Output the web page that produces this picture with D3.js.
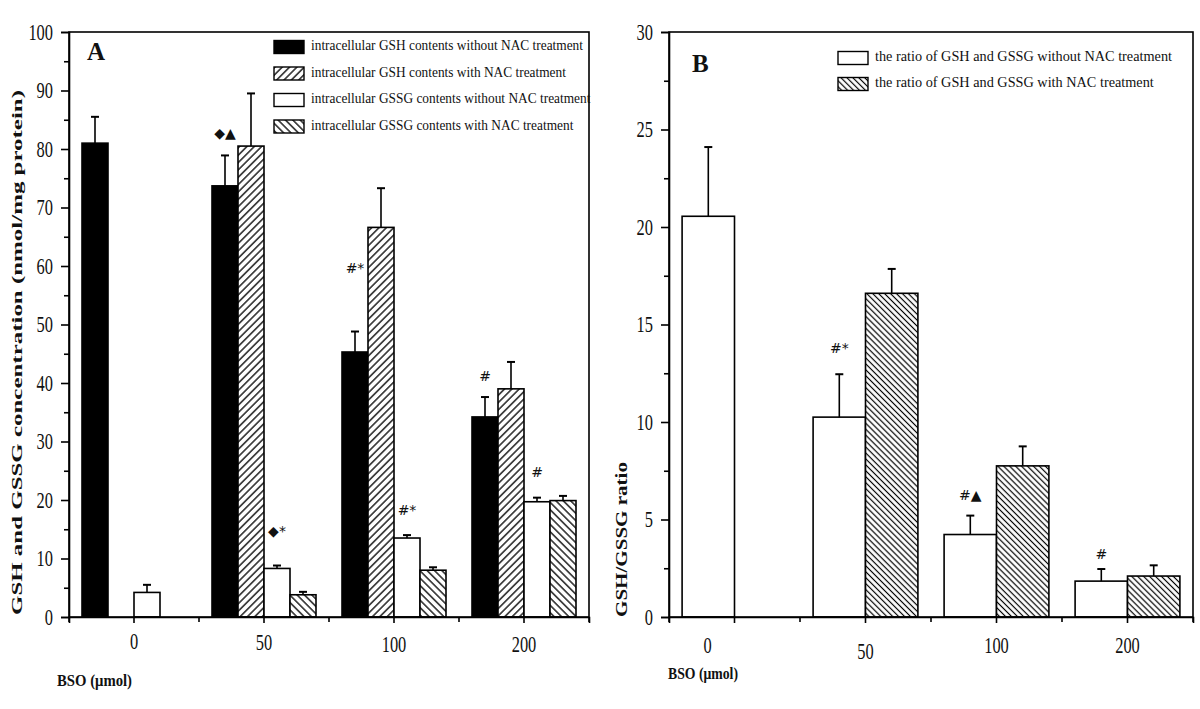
<!DOCTYPE html>
<html><head><meta charset="utf-8">
<script src="https://cdn.jsdelivr.net/npm/d3@7/dist/d3.min.js"></script>
<style>
body{margin:0;background:#fff;}
svg text{font-family:"Liberation Serif","Times New Roman",serif;fill:#111;}
</style></head>
<body><svg id="c" width="1200" height="709"></svg>
<script>
// ---------- data ----------
const categories = ["0","50","100","200"];
const seriesA = ["intracellular GSH contents without NAC treatment",
                 "intracellular GSH contents with NAC treatment",
                 "intracellular GSSG contents without NAC treatment",
                 "intracellular GSSG contents with NAC treatment"];
const gshWithout   = [81.0, 73.7, 45.3, 34.2];
const gshWithoutSD = [4.5, 5.2, 3.5, 3.4];
const gshWith      = [null, 80.5, 66.6, 39.0];
const gshWithSD    = [null, 9.0, 6.7, 4.6];
const gssgWithout  = [4.2, 8.3, 13.5, 19.7];
const gssgWithoutSD= [1.3, 0.5, 0.5, 0.7];
const gssgWith     = [null, 3.8, 8.0, 19.9];
const gssgWithSD   = [null, 0.5, 0.5, 0.8];
const ticksA = [0,10,20,30,40,50,60,70,80,90,100];

const seriesB = ["the ratio of GSH and GSSG without NAC treatment",
                 "the ratio of GSH and GSSG with NAC treatment"];
const ratioWithout   = [20.55, 10.25, 4.23, 1.84];
const ratioWithoutSD = [3.55, 2.2, 0.97, 0.62];
const ratioWith      = [null, 16.6, 7.75, 2.1];
const ratioWithSD    = [null, 1.25, 1.0, 0.55];
const ticksB = [0,5,10,15,20,25,30];

const notesA = [
  {s:0, c:"50",  t:"\u25C6\u25B2", v:82.6},
  {s:0, c:"100", t:"#*", v:59.5},
  {s:0, c:"200", t:"#",  v:41.0},
  {s:2, c:"50",  t:"\u25C6*", v:14.5},
  {s:2, c:"100", t:"#*", v:18.1},
  {s:2, c:"200", t:"#",  v:24.6}];
const notesB = [
  {s:0, c:"50",  t:"#*", v:13.75},
  {s:0, c:"100", t:"#\u25B2", v:6.2},
  {s:0, c:"200", t:"#",  v:3.2}];

const xTitle = "BSO (\u03BCmol)";
const yTitleA = "GSH and GSSG concentration (nmol/mg protein)";
const yTitleB = "GSH/GSSG ratio";

// ---------- drawing ----------
const svg = d3.select("#c");
const defs = svg.append("defs");
function hatch(id, angle, gap, w){
  const p = defs.append("pattern").attr("id",id).attr("patternUnits","userSpaceOnUse")
    .attr("width",gap).attr("height",gap).attr("patternTransform",`rotate(${angle})`);
  p.append("rect").attr("width",gap).attr("height",gap).attr("fill","#fff");
  p.append("line").attr("x1",gap/2).attr("x2",gap/2).attr("y1",0).attr("y2",gap)
    .attr("stroke","#000").attr("stroke-width",w);
}
hatch("fwd", 45, 5.2, 1.3);
hatch("back", -45, 5.2, 1.3);
hatch("backB", -45, 4.2, 1.2);

const fillsA = ["#000","url(#fwd)","#fff","url(#back)"];
const fillsB = ["#fff","url(#backB)"];

function panel(o){
  const g = svg.append("g");
  const x = d3.scaleBand().domain(categories).range([o.left,o.right]);
  const y = d3.scaleLinear().domain(o.domain).range([o.bottom,o.top]);
  const bw = x.bandwidth();
  const xs = d3.scaleBand().domain(d3.range(o.series.length)).range([bw*0.1, bw*0.9]);

  o.series.forEach((vals,si)=>{
    const sd = o.sds[si];
    categories.forEach((c,ci)=>{
      const v = vals[ci]; if(v==null) return;
      const x0 = x(c)+xs(si);
      g.append("rect").attr("x",x0).attr("y",y(v)).attr("width",xs.bandwidth())
        .attr("height",y(0)-y(v)).attr("fill",o.fills[si]).attr("stroke","#000").attr("stroke-width",1.6);
      const cx = x0+xs.bandwidth()/2;
      const top = y(v+sd[ci]);
      g.append("line").attr("x1",cx).attr("x2",cx).attr("y1",y(v)).attr("y2",top)
        .attr("stroke","#000").attr("stroke-width",1.6);
      g.append("line").attr("x1",cx-4).attr("x2",cx+4).attr("y1",top).attr("y2",top)
        .attr("stroke","#000").attr("stroke-width",2);
    });
  });

  o.notes.forEach(n=>{
    g.append("text").attr("x",x(n.c)+xs(n.s)+xs.bandwidth()/2).attr("y",y(n.v))
      .attr("text-anchor","middle").attr("dominant-baseline","middle")
      .style("font-size","14px").style("font-family","'DejaVu Sans',sans-serif")
      .attr("fill","#222").text(n.t);
  });

  g.append("rect").attr("x",o.left).attr("y",o.top).attr("width",o.right-o.left)
    .attr("height",o.bottom-o.top).attr("fill","none").attr("stroke","#000").attr("stroke-width",1.6);

  const minor = [];
  for(let i=0;i<o.ticks.length-1;i++) minor.push((o.ticks[i]+o.ticks[i+1])/2);
  const ya = g.append("g").attr("transform",`translate(${o.left},0)`)
    .call(d3.axisLeft(y).tickValues(o.ticks).tickSize(8).tickPadding(8).tickFormat(d=>d));
  ya.select(".domain").attr("stroke","#000").attr("stroke-width",1.6);
  ya.selectAll(".tick line").attr("stroke-width",1.6);
  ya.selectAll("text").style("font-size","23px").style("font-family","'Liberation Serif',serif")
    .attr("fill","#222").attr("textLength",d=>String(d).length*8.2).attr("lengthAdjust","spacingAndGlyphs");
  g.append("g").attr("transform",`translate(${o.left},0)`)
    .call(d3.axisLeft(y).tickValues(minor).tickSize(5).tickFormat(""))
    .call(s=>{s.select(".domain").remove(); s.selectAll("line").attr("stroke-width",1.6);});

  const xa = g.append("g").attr("transform",`translate(0,${o.bottom})`)
    .call(d3.axisBottom(x).tickSize(6).tickPadding(10));
  xa.select(".domain").attr("stroke","#000").attr("stroke-width",1.6);
  xa.selectAll(".tick line").attr("stroke-width",1.6);
  xa.selectAll("text").style("font-size","23px").style("font-family","'Liberation Serif',serif")
    .attr("fill","#222").attr("textLength",d=>d.length*8.2).attr("lengthAdjust","spacingAndGlyphs")
    .attr("dx",(d,i)=>o.labelDx[i]).attr("dy",(d,i)=>(0.71*23+o.labelDy[i])+"px");
  const edges = categories.map(c=>x(c)).concat([o.right]);
  g.append("g").selectAll("line").data(edges).join("line")
    .attr("x1",d=>d).attr("x2",d=>d).attr("y1",o.bottom).attr("y2",o.bottom+5)
    .attr("stroke","#000").attr("stroke-width",1.6);

  g.append("text").attr("x",o.xTitlePos[0]).attr("y",o.xTitlePos[1]).attr("dominant-baseline","middle")
    .style("font-size","16px").style("font-weight","bold").attr("textLength",o.xTitlePos[2])
    .attr("lengthAdjust","spacingAndGlyphs").text(xTitle);
  g.append("text").attr("transform",`translate(${o.yTitlePos[0]},${o.yTitlePos[1]}) rotate(-90)`)
    .style("font-size",o.yTitlePos[3]+"px").style("font-weight","bold")
    .attr("textLength",o.yTitlePos[2]).attr("lengthAdjust","spacingAndGlyphs").text(o.yTitle);
  g.append("text").attr("x",o.letterPos[0]).attr("y",o.letterPos[1])
    .style("font-size","25px").style("font-weight","bold").text(o.letter);

  const lg = g.append("g");
  o.names.forEach((nm,i)=>{
    const yy = o.legPos[1]+i*o.legPos[3];
    lg.append("rect").attr("x",o.legPos[0]).attr("y",yy-6.5).attr("width",30).attr("height",13)
      .attr("fill",o.fills[i]).attr("stroke","#000").attr("stroke-width",1.4);
    lg.append("text").attr("x",o.legPos[0]+37).attr("y",yy).attr("dominant-baseline","middle")
      .style("font-size","15px").attr("fill","#222").text(nm);
  });
  const first = lg.select("text").node();
  const k = o.legPos[2]/first.getComputedTextLength();
  lg.selectAll("text").each(function(){
    d3.select(this).attr("textLength",this.getComputedTextLength()*k).attr("lengthAdjust","spacingAndGlyphs");
  });
}

panel({left:69,right:589,top:32,bottom:617,domain:[0,100],ticks:ticksA,
  series:[gshWithout,gshWith,gssgWithout,gssgWith],
  sds:[gshWithoutSD,gshWithSD,gssgWithoutSD,gssgWithSD],
  fills:fillsA,notes:notesA,names:seriesA,
  labelDx:[0,0,0,0],labelDy:[0,1,3,3],
  xTitlePos:[57,682,75],yTitlePos:[22,615,525,15],yTitle:yTitleA,
  letter:"A",letterPos:[87,60],legPos:[274,47,272,26.5]});

panel({left:669,right:1193,top:32,bottom:617,domain:[0,30],ticks:ticksB,
  series:[ratioWithout,ratioWith],
  sds:[ratioWithoutSD,ratioWithSD],
  fills:fillsB,notes:notesB,names:seriesB,
  labelDx:[-27,0,0,0],labelDy:[4,10,4,4],
  xTitlePos:[668,675,70],yTitlePos:[627,617,155,16],yTitle:yTitleB,
  letter:"B",letterPos:[692,72],legPos:[838,58,297,26]});
</script></body></html>
